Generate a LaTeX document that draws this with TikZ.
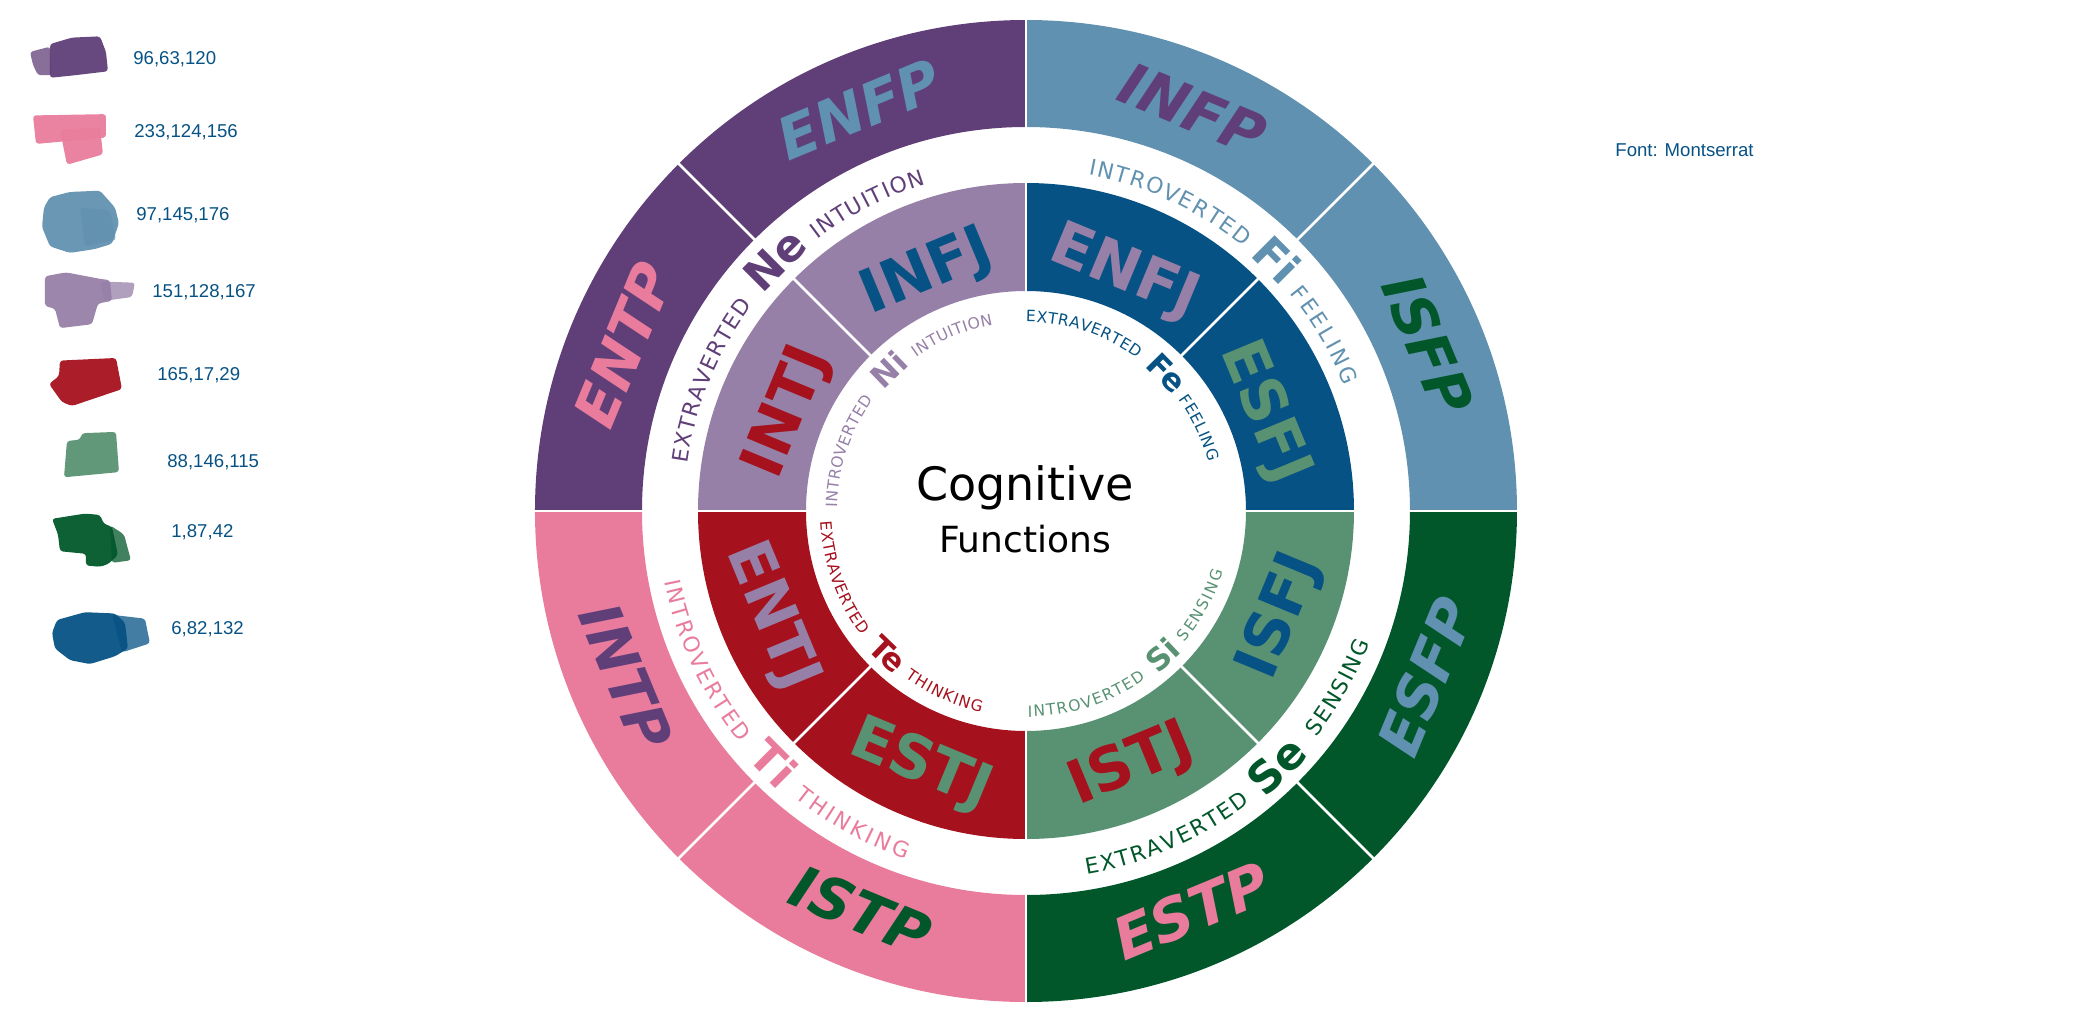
\documentclass[tikz,border=0pt]{standalone}
\usepackage{fontspec}
\setmainfont{DejaVu Sans}
\newfontfamily\legendfont{Liberation Sans}
\usetikzlibrary{decorations.text}

\definecolor{cPurple}{RGB}{96,63,120}
\definecolor{cPink}{RGB}{233,124,156}
\definecolor{cSky}{RGB}{97,145,176}
\definecolor{cLilac}{RGB}{151,128,167}
\definecolor{cRed}{RGB}{165,17,29}
\definecolor{cSage}{RGB}{88,146,115}
\definecolor{cForest}{RGB}{1,87,42}
\definecolor{cNavy}{RGB}{6,82,132}

\newcommand\outerarcfont{\fontsize{10.9}{12}\selectfont}
\newcommand\innerarcfont{\fontsize{7.8}{9}\selectfont}
% word set along an arc: colour, font, start, end, radius, text
\newcommand\arcword[6]{%
  \path[decorate, decoration={text along path, text={|#2|#6}, text color=#1, text align=fit to path}]
    (#3:#5) arc[start angle=#3, end angle=#4, radius=#5];}

\tikzset{
  sep/.style={draw=white, line width=1.25pt},
  outerlabel/.style={font=\fontsize{29}{30}\selectfont\bfseries\itshape, inner sep=0pt, text height=21pt, text depth=0pt},
  innerlabel/.style={font=\fontsize{30}{31}\selectfont\bfseries, inner sep=0pt, text height=21.9pt, text depth=0pt},
  outercode/.style={font=\fontsize{22}{23}\selectfont\bfseries, inner sep=0pt, text height=16pt, text depth=0pt},
  innercode/.style={font=\fontsize{15.5}{16}\selectfont\bfseries, inner sep=0pt, text height=11.3pt, text depth=0pt},
  legendtext/.style={font=\legendfont\fontsize{9.3}{11}\selectfont, text=cNavy, anchor=west, inner sep=0pt},
  blob/.style={fill opacity=0.95, rounded corners=1.5pt},
  smear/.style={fill opacity=0.75, rounded corners=1.5pt}
}

\begin{document}
\begin{tikzpicture}[x=0.5pt, y=0.5pt]
  \useasboundingbox (-1026,-513) rectangle (1064,511);

  % rings
  \foreach \a/\col in {90/cPurple, 0/cSky, 270/cForest, 180/cPink}
    \fill[\col] (\a:384) arc[start angle=\a, delta angle=90, radius=384]
      -- ({\a+90}:491) arc[start angle={\a+90}, delta angle=-90, radius=491] -- cycle;
  \foreach \a/\col in {90/cLilac, 0/cNavy, 270/cSage, 180/cRed}
    \fill[\col] (\a:220) arc[start angle=\a, delta angle=90, radius=220]
      -- ({\a+90}:328) arc[start angle={\a+90}, delta angle=-90, radius=328] -- cycle;
  \foreach \a in {0,45,...,315} {
    \draw[sep] (\a:381) -- (\a:494);
    \draw[sep] (\a:217) -- (\a:331);
  }

  % type labels
  \foreach \t/\a/\col in {ENFP/112.5/cSky, ENTP/157.5/cPink, INFP/67.5/cPurple, ISFP/22.5/cForest}
    \node[outerlabel, text=\col, rotate=\a-90] (\t) at (\a:435) {\t};
  \foreach \t/\a/\col in {ESFP/-22.5/cSky, ESTP/-67.5/cPink, ISTP/-112.5/cForest, INTP/-157.5/cPurple}
    \node[outerlabel, text=\col, rotate=\a+90] (\t) at (\a:433) {\t};
  \foreach \t/\a/\col in {INFJ/112.5/cNavy, INTJ/157.5/cRed, ENFJ/67.5/cLilac, ESFJ/22.5/cSage}
    \node[innerlabel, text=\col, rotate=\a-90] (\t) at (\a:263) {\t};
  \foreach \t/\a/\col in {ISFJ/-22.5/cNavy, ISTJ/-67.5/cRed, ESTJ/-112.5/cSage, ENTJ/-157.5/cLilac}
    \node[innerlabel, text=\col, rotate=\a+90] (\t) at (\a:270) {\t};

  % functions between the rings
  \node[outercode, text=cPurple, rotate=45] (ne) at (135:355) {Ne};
  \node[outercode, text=cSky, rotate=-45] (fi) at (45:355) {Fi};
  \node[outercode, text=cForest, rotate=44.5] (se) at (-45.5:357) {Se};
  \node[outercode, text=cPink, rotate=-45] (ti) at (225:357) {Ti};
  \arcword{cPurple}{\outerarcfont}{172}{143}{342}{EXTRAVERTED}
  \arcword{cPurple}{\outerarcfont}{127.5}{107}{342}{INTUITION}
  \arcword{cSky}{\outerarcfont}{79.5}{50.5}{342}{INTROVERTED}
  \arcword{cSky}{\outerarcfont}{39.5}{21.5}{342}{FEELING}
  \arcword{cForest}{\outerarcfont}{-80.5}{-52.5}{368}{EXTRAVERTED}
  \arcword{cForest}{\outerarcfont}{-38}{-21}{368}{SENSING}
  \arcword{cPink}{\outerarcfont}{191}{219}{368}{INTROVERTED}
  \arcword{cPink}{\outerarcfont}{231}{251}{368}{THINKING}

  % functions inside the inner ring
  \node[innercode, text=cLilac, rotate=44] (ni) at (134:197) {Ni};
  \node[innercode, text=cNavy, rotate=-45.5] (fe) at (44.5:197) {Fe};
  \node[innercode, text=cSage, rotate=43.5] (si) at (-46.5:199) {Si};
  \node[innercode, text=cRed, rotate=-44] (te) at (226:199) {Te};
  \arcword{cLilac}{\innerarcfont}{179}{144}{189}{INTROVERTED}
  \arcword{cLilac}{\innerarcfont}{125.5}{100}{189}{INTUITION}
  \arcword{cNavy}{\innerarcfont}{90}{54}{189}{EXTRAVERTED}
  \arcword{cNavy}{\innerarcfont}{36}{15}{189}{FEELING}
  \arcword{cSage}{\innerarcfont}{-89.5}{-54.5}{206}{INTROVERTED}
  \arcword{cSage}{\innerarcfont}{-39.5}{-17}{206}{SENSING}
  \arcword{cRed}{\innerarcfont}{183}{217}{206}{EXTRAVERTED}
  \arcword{cRed}{\innerarcfont}{234}{257.5}{206}{THINKING}

  \node[font=\fontsize{23}{24}\selectfont, anchor=base] (title) at (-1,11) {Cognitive};
  \node[font=\fontsize{18}{19}\selectfont, anchor=base] (subtitle) at (-1,-41) {Functions};

  \node[legendtext] (fontnote) at (589,361) {Font: Montserrat};

  % colour key, in picture pixels (taller rows)
  \begin{scope}[shift={(-1026,511)}, yscale=-1.297]
    \fill[cPurple, smear] (30,40) -- (50,36) -- (52,58) -- (38,58) -- (33,50) -- cycle;
    \fill[cPurple, blob] (50,34) -- (72,29) -- (100,28) -- (106,40) -- (108,55) -- (75,58) -- (50,60) -- cycle;
    \fill[cPink, blob] (33,89) -- (106,88) -- (106,106) -- (36,111) -- cycle;
    \fill[cPink, blob] (60,100) -- (100,98) -- (103,119) -- (67,127) -- cycle;
    \fill[cSky, blob] (50,152) -- (70,148) -- (100,147) -- (115,160) -- (119,172) -- (112,188) -- (95,192) -- (70,195) -- (50,190) -- (42,175) -- (44,160) -- cycle;
    \fill[cSky, smear] (80,160) -- (110,162) -- (116,185) -- (85,190) -- cycle;
    \fill[cLilac, blob] (45,213) -- (66,210) -- (100,215) -- (110,216) -- (112,232) -- (98,234) -- (92,250) -- (60,253) -- (55,238) -- (45,236) -- cycle;
    \fill[cLilac, smear] (100,217) -- (135,218) -- (132,229) -- (104,232) -- cycle;
    \fill[cRed, blob] (60,278) -- (116,276) -- (122,300) -- (72,313) -- (62,310) -- (49,296) -- (59,290) -- cycle;
    \fill[cSage, blob] (67,340) -- (80,339) -- (82,334) -- (116,333) -- (119,364) -- (64,368) -- cycle;
    \fill[cForest, blob] (52,400) -- (85,396) -- (100,397) -- (104,404) -- (112,406) -- (118,428) -- (108,435) -- (100,437) -- (86,436) -- (86,427) -- (60,425) -- (58,412) -- cycle;
    \fill[cForest, smear] (110,405) -- (124,412) -- (131,432) -- (112,434) -- cycle;
    \fill[cNavy, blob] (57,478) -- (85,472) -- (115,473) -- (125,480) -- (128,500) -- (115,506) -- (90,512) -- (70,509) -- (55,500) -- (52,488) -- cycle;
    \fill[cNavy, smear] (112,474) -- (145,477) -- (150,496) -- (122,503) -- cycle;

    \node[legendtext] (key1) at (133,45.5) {96,63,120};
    \node[legendtext] (key2) at (134,102) {233,124,156};
    \node[legendtext] (key3) at (136,166) {97,145,176};
    \node[legendtext] (key4) at (152,225) {151,128,167};
    \node[legendtext] (key5) at (157,289) {165,17,29};
    \node[legendtext] (key6) at (167,356) {88,146,115};
    \node[legendtext] (key7) at (171,410) {1,87,42};
    \node[legendtext] (key8) at (171,485) {6,82,132};
  \end{scope}
\end{tikzpicture}
\end{document}
